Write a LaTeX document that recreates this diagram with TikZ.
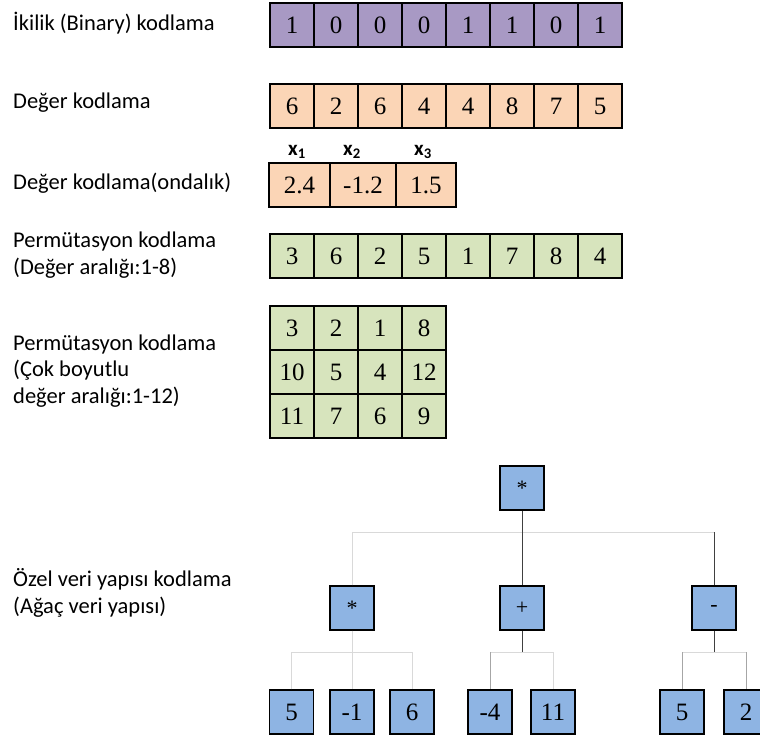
\documentclass[tikz,border=0pt]{standalone}
\usepackage{fontspec}
\usepackage{tikz}
\newfontfamily\lblfont{Carlito}
\newfontfamily\cellfont{Liberation Serif}
\definecolor{binPurple}{RGB}{168,153,196}
\definecolor{valPeach}{RGB}{251,213,182}
\definecolor{permGreen}{RGB}{215,228,189}
\definecolor{treeBlue}{RGB}{142,180,227}
\definecolor{lightEdge}{RGB}{217,217,217}
\definecolor{midEdge}{RGB}{166,166,166}
\definecolor{darkEdge}{RGB}{64,64,64}
\tikzset{
  cell/.style={draw, line width=1.1pt, minimum width=44pt, minimum height=44pt, inner sep=0pt, font=\cellfont\fontsize{25}{25}\selectfont},
  lbl/.style={anchor=west, align=left, inner sep=0pt, font=\lblfont\fontsize{22.5}{26.5}\selectfont},
  xlbl/.style={inner sep=0pt, font=\lblfont\bfseries\fontsize{21}{21}\selectfont},
  tnode/.style={cell, fill=treeBlue},
  opnode/.style={tnode, font=\cellfont\fontsize{22}{22}\selectfont},
  litedge/.style={lightEdge, line width=0.8pt},
  medge/.style={midEdge, line width=0.8pt},
  dkedge/.style={darkEdge, line width=0.8pt}
}
\begin{document}
\begin{tikzpicture}[x=1pt,y=-1pt]
 	\useasboundingbox (0,0) rectangle (760,737);
 	% labels
 	\node[lbl] (lblBin) at (13,23) {İkilik (Binary) kodlama};
 	\node[lbl] (lblVal) at (13,103) {Değer kodlama};
 	\node[lbl] (lblDec) at (13,183) {Değer kodlama(ondalık)};
 	\node[lbl] (lblPerm) at (13,255) {Permütasyon kodlama\\(Değer aralığı:1-8)};
 	\node[lbl] (lblGrid) at (13,371) {Permütasyon kodlama\\(Çok boyutlu\\değer aralığı:1-12)};
 	\node[lbl] (lblTree) at (13,593) {Özel veri yapısı kodlama\\(Ağaç veri yapısı)};
 	% rows
 	\foreach \v [count=\i from 0] in {1,0,0,0,1,1,0,1}
 	  \node[cell,fill=binPurple] (bin\i) at (292+44*\i,25) {\v};
 	\foreach \v [count=\i from 0] in {6,2,6,4,4,8,7,5}
 	  \node[cell,fill=valPeach] (val\i) at (292+44*\i,106) {\v};
 	\node[cell,fill=valPeach,minimum width=61pt] (dec0) at (299.5,185) {2.4};
 	\node[cell,fill=valPeach,minimum width=66pt] (dec1) at (363,185) {-1.2};
 	\node[cell,fill=valPeach,minimum width=60pt] (dec2) at (426,185) {1.5};
 	\node[xlbl] (x1) at (297,152) {x\textsubscript{1}};
 	\node[xlbl] (x2) at (352,152) {x\textsubscript{2}};
 	\node[xlbl] (x3) at (423,152) {x\textsubscript{3}};
 	\foreach \v [count=\i from 0] in {3,6,2,5,1,7,8,4}
 	  \node[cell,fill=permGreen] (perm\i) at (292+44*\i,256) {\v};
 	\foreach \row [count=\r from 0] in {{3,2,1,8},{10,5,4,12},{11,7,6,9}}
 	  \foreach \v [count=\c from 0] in \row
 	    \node[cell,fill=permGreen] (grid\r\c) at (292+44*\c,328+44*\r) {\v};
 	% tree
 	\node[opnode] (root) at (522,488) {*};
 	\node[opnode] (mul) at (352,608) {*};
 	\node[opnode] (plus) at (522,608) {+};
 	\node[opnode] (minus) at (714,608) {-};
 	\node[tnode] (mulA) at (291.5,712) {5};
 	\node[tnode] (mulB) at (352,712) {-1};
 	\node[tnode] (mulC) at (412,712) {6};
 	\node[tnode] (plusA) at (490,712) {-4};
 	\node[tnode] (plusB) at (553,712) {11};
 	\node[tnode] (minusA) at (682,712) {5};
 	\node[tnode] (minusB) at (746,712) {2};
 	\coordinate (barTop) at (0,532);
 	\coordinate (barLow) at (0,652);
 	\draw[litedge] (mul.north) |- (barTop -| minus.north);
 	\draw[dkedge] (root.south) -- (plus.north);
 	\draw[dkedge] (barTop -| minus.north) -- (minus.north);
 	\draw[litedge] (mulA.north) |- (barLow -| mulC.north) -- (mulC.north);
 	\draw[litedge] (mul.south) -- (mulB.north);
 	\draw[dkedge] (plus.south) -- (barLow -| plus.south);
 	\draw[litedge] (barLow -| plusA.north) -- (barLow -| plusB.north) -- (plusB.north);
 	\draw[medge] (barLow -| plusA.north) -- (plusA.north);
 	\draw[dkedge] (minus.south) -- (barLow -| minus.south);
 	\draw[litedge] (barLow -| minusA.north) -- (barLow -| minusB.north);
 	\draw[medge] (barLow -| minusA.north) -- (minusA.north);
 	\draw[medge] (barLow -| minusB.north) -- (minusB.north);
\end{tikzpicture}
\end{document}
